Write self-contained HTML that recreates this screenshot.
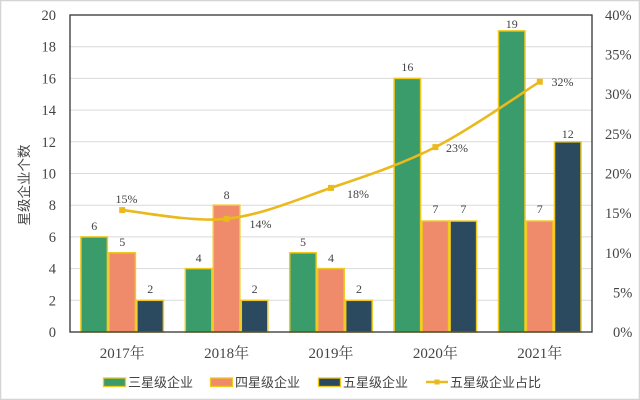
<!DOCTYPE html>
<html><head><meta charset="utf-8"><style>
html,body{margin:0;padding:0;background:#fff;}
svg{display:block;}
.t{font-family:"Liberation Serif","Noto Serif CJK SC",serif;fill:#444;}
.c{font-family:"Liberation Sans","Noto Sans CJK SC",sans-serif;fill:#444;}
</style></head><body>
<svg width="640" height="400" viewBox="0 0 640 400" xmlns="http://www.w3.org/2000/svg">
<rect x="0.5" y="0.5" width="639" height="399" fill="#fff" stroke="#d4d4d4" stroke-width="1.5"/>
<!-- gridlines -->
<g stroke="#d9d9d9" stroke-width="1">
<line x1="70" x2="592" y1="46.7" y2="46.7"/>
<line x1="70" x2="592" y1="78.4" y2="78.4"/>
<line x1="70" x2="592" y1="110.1" y2="110.1"/>
<line x1="70" x2="592" y1="141.8" y2="141.8"/>
<line x1="70" x2="592" y1="173.5" y2="173.5"/>
<line x1="70" x2="592" y1="205.2" y2="205.2"/>
<line x1="70" x2="592" y1="236.9" y2="236.9"/>
<line x1="70" x2="592" y1="268.6" y2="268.6"/>
<line x1="70" x2="592" y1="300.3" y2="300.3"/>
</g>
<!-- bars -->
<g stroke="#f0c81e" stroke-width="1.5">
<!-- 2017 -->
<rect x="80.9" y="236.9" width="26.5" height="95.1" fill="#3b9c6b"/>
<rect x="108.9" y="252.75" width="26.5" height="79.25" fill="#ef8b6b"/>
<rect x="136.9" y="300.3" width="26.5" height="31.7" fill="#2b4a5f"/>
<!-- 2018 -->
<rect x="185.3" y="268.6" width="26.5" height="63.4" fill="#3b9c6b"/>
<rect x="213.3" y="205.2" width="26.5" height="126.8" fill="#ef8b6b"/>
<rect x="241.3" y="300.3" width="26.5" height="31.7" fill="#2b4a5f"/>
<!-- 2019 -->
<rect x="289.7" y="252.75" width="26.5" height="79.25" fill="#3b9c6b"/>
<rect x="317.7" y="268.6" width="26.5" height="63.4" fill="#ef8b6b"/>
<rect x="345.7" y="300.3" width="26.5" height="31.7" fill="#2b4a5f"/>
<!-- 2020 -->
<rect x="394.1" y="78.4" width="26.5" height="253.6" fill="#3b9c6b"/>
<rect x="422.1" y="221.05" width="26.5" height="110.95" fill="#ef8b6b"/>
<rect x="450.1" y="221.05" width="26.5" height="110.95" fill="#2b4a5f"/>
<!-- 2021 -->
<rect x="498.5" y="30.85" width="26.5" height="301.15" fill="#3b9c6b"/>
<rect x="526.5" y="221.05" width="26.5" height="110.95" fill="#ef8b6b"/>
<rect x="554.5" y="141.8" width="26.5" height="190.2" fill="#2b4a5f"/>
</g>
<!-- plot border -->
<rect x="70" y="15" width="522" height="317" fill="none" stroke="#333" stroke-width="1.3"/>
<!-- bar labels -->
<g class="t" font-size="12" text-anchor="middle" fill="#333">
<text x="94.2" y="230">6</text>
<text x="122.2" y="246">5</text>
<text x="150.2" y="293">2</text>
<text x="198.6" y="262">4</text>
<text x="226.6" y="199">8</text>
<text x="254.6" y="293">2</text>
<text x="303" y="246">5</text>
<text x="331" y="262">4</text>
<text x="359" y="293">2</text>
<text x="407.4" y="71">16</text>
<text x="435.4" y="213">7</text>
<text x="463.4" y="213">7</text>
<text x="511.8" y="28">19</text>
<text x="539.8" y="213">7</text>
<text x="567.8" y="138">12</text>
</g>
<!-- line -->
<path d="M122.2,210.1 C139.6,211.55 191.8,222.5 226.6,218.8 C261.4,215.1 296.2,199.85 331,187.9 C365.8,175.95 400.6,164.8 435.4,147.1 C470.2,129.4 522.4,92.6 539.8,81.7" fill="none" stroke="#eab91c" stroke-width="2.6"/>
<g fill="#eab91c">
<rect x="119.2" y="207.1" width="6" height="6"/>
<rect x="223.6" y="215.8" width="6" height="6"/>
<rect x="328" y="184.9" width="6" height="6"/>
<rect x="432.4" y="144.1" width="6" height="6"/>
<rect x="536.8" y="78.7" width="6" height="6"/>
</g>
<g class="t" font-size="12" text-anchor="middle" fill="#333">
<text x="126.5" y="203">15%</text>
<text x="260.5" y="228">14%</text>
<text x="358" y="198">18%</text>
<text x="457" y="152">23%</text>
<text x="562.5" y="86">32%</text>
</g>
<!-- left axis ticks -->
<g class="t" font-size="14.5" text-anchor="end">
<text x="56" y="20">20</text>
<text x="56" y="51.7">18</text>
<text x="56" y="83.4">16</text>
<text x="56" y="115.1">14</text>
<text x="56" y="146.8">12</text>
<text x="56" y="178.5">10</text>
<text x="56" y="210.2">8</text>
<text x="56" y="241.9">6</text>
<text x="56" y="273.6">4</text>
<text x="56" y="305.3">2</text>
<text x="56" y="337">0</text>
</g>
<!-- right axis ticks -->
<g class="t" font-size="14.5" text-anchor="start">
<text x="605" y="20">40%</text>
<text x="605" y="59.6">35%</text>
<text x="605" y="99.2">30%</text>
<text x="605" y="138.9">25%</text>
<text x="605" y="178.5">20%</text>
<text x="605" y="218.1">15%</text>
<text x="605" y="257.8">10%</text>
<text x="613" y="297.4">5%</text>
<text x="613" y="337">0%</text>
</g>
<!-- y axis title -->
<text class="c" font-size="13.5" text-anchor="middle" transform="translate(29,185) rotate(-90)">星级企业个数</text>
<!-- categories -->
<g class="t" font-size="15" text-anchor="middle">
<text x="122.2" y="358">2017年</text>
<text x="226.6" y="358">2018年</text>
<text x="331" y="358">2019年</text>
<text x="435.4" y="358">2020年</text>
<text x="539.8" y="358">2021年</text>
</g>
<!-- legend -->
<g stroke="#f0c81e" stroke-width="1.3">
<rect x="103.5" y="378" width="22" height="8.5" fill="#3b9c6b"/>
<rect x="210.5" y="378" width="22" height="8.5" fill="#ef8b6b"/>
<rect x="318.5" y="378" width="22" height="8.5" fill="#2b4a5f"/>
</g>
<line x1="426" x2="448" y1="382" y2="382" stroke="#eab91c" stroke-width="2.5"/>
<rect x="434.5" y="379.5" width="5" height="5" fill="#eab91c"/>
<g class="c" font-size="13">
<text x="128" y="387">三星级企业</text>
<text x="235" y="387">四星级企业</text>
<text x="343" y="387">五星级企业</text>
<text x="450" y="387">五星级企业占比</text>
</g>
</svg>
</body></html>
